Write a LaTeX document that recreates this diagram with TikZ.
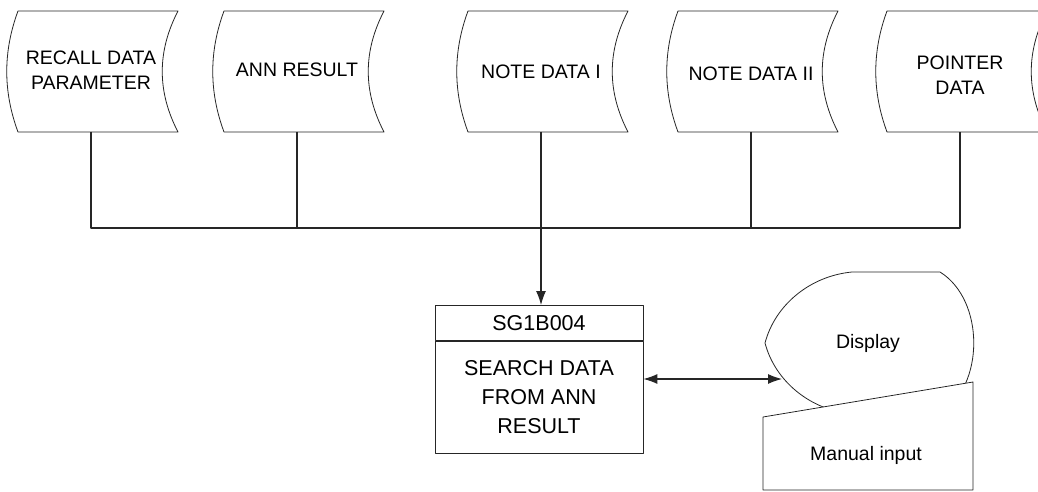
\documentclass[tikz,border=0pt]{standalone}
\usepackage{fontspec}
\setmainfont{Liberation Sans}
\usetikzlibrary{arrows.meta}
\begin{document}
\begin{tikzpicture}[x=1pt,y=-1pt,line join=round,
  shp/.style={draw=black!85,line width=0.8pt,fill=white},
  lbl/.style={font=\fontsize{19.5}{25}\selectfont,align=center,inner sep=0pt,text=black},
  boxst/.style={draw=black!85,line width=0.8pt,minimum width=208pt,inner sep=0pt,
    font=\fontsize{21.5}{29}\selectfont,align=center,text=black},
  conn/.style={draw=black!85,line width=1.1pt},
  tipst/.style={-{Latex[length=14pt,width=10pt]}},
  sdata/.pic={\path[shp] (-73,-60.5) -- (87,-60.5) .. controls (66,-20) and (66,20) .. (87,60.5)
     -- (-73,60.5) .. controls (-88,20) and (-88,-20) .. (-73,-60.5) -- cycle;}]
\useasboundingbox (0,0) rectangle (1038,492);
\begin{scope}
\clip (0,0) rectangle (1038,492);
% stored data shapes
\pic at (91,71.5) {sdata};
\pic at (297,71.5) {sdata};
\pic at (541,71.5) {sdata};
\pic at (751,71.5) {sdata};
\pic at (960,71.5) {sdata};
\node[lbl] (s1) at (91,70) {RECALL DATA\\PARAMETER};
\node[lbl] (s2) at (297,70) {ANN RESULT};
\node[lbl] (s3) at (541,72) {NOTE DATA I};
\node[lbl] (s4) at (751,74) {NOTE DATA II};
\node[lbl] (s5) at (960,75) {POINTER\\DATA};
\coordinate (b1) at (91,132);
\coordinate (b2) at (297,132);
\coordinate (b3) at (541,132);
\coordinate (b4) at (751,132);
\coordinate (b5) at (960,132);
\coordinate (bus) at (541,228);
% bus
\draw[conn] (b1) -- (b1 |- bus) -- (b5 |- bus) -- (b5);
\draw[conn] (b2) -- (b2 |- bus);
\draw[conn] (b4) -- (b4 |- bus);
% process box
\node[boxst,minimum height=35pt,anchor=north] (hdr) at (539,305) {SG1B004};
\node[boxst,minimum height=112pt,anchor=north] (body) at (hdr.south) {SEARCH DATA\\FROM ANN\\RESULT};
\draw[conn,tipst] (b3) -- (b3 |- hdr.north);
% display
\path[shp] (852,272) -- (940,272) .. controls (985,300) and (985,386) .. (940,414)
  -- (852,414) .. controls (810,410) and (775,381) .. (765,343)
  .. controls (775,305) and (810,276) .. (852,272) -- cycle;
\node[lbl] (disp) at (868,343) {Display};
% manual input
\path[shp] (763,417) -- (973,382) -- (973,490) -- (763,490) -- cycle;
\node[lbl] (man) at (866,455) {Manual input};
\coordinate (dleft) at (782,379);
\draw[conn,{Latex[length=14pt,width=10pt]}-{Latex[length=14pt,width=10pt]}] (dleft -| body.east) -- (dleft);
\end{scope}
\end{tikzpicture}
\end{document}
